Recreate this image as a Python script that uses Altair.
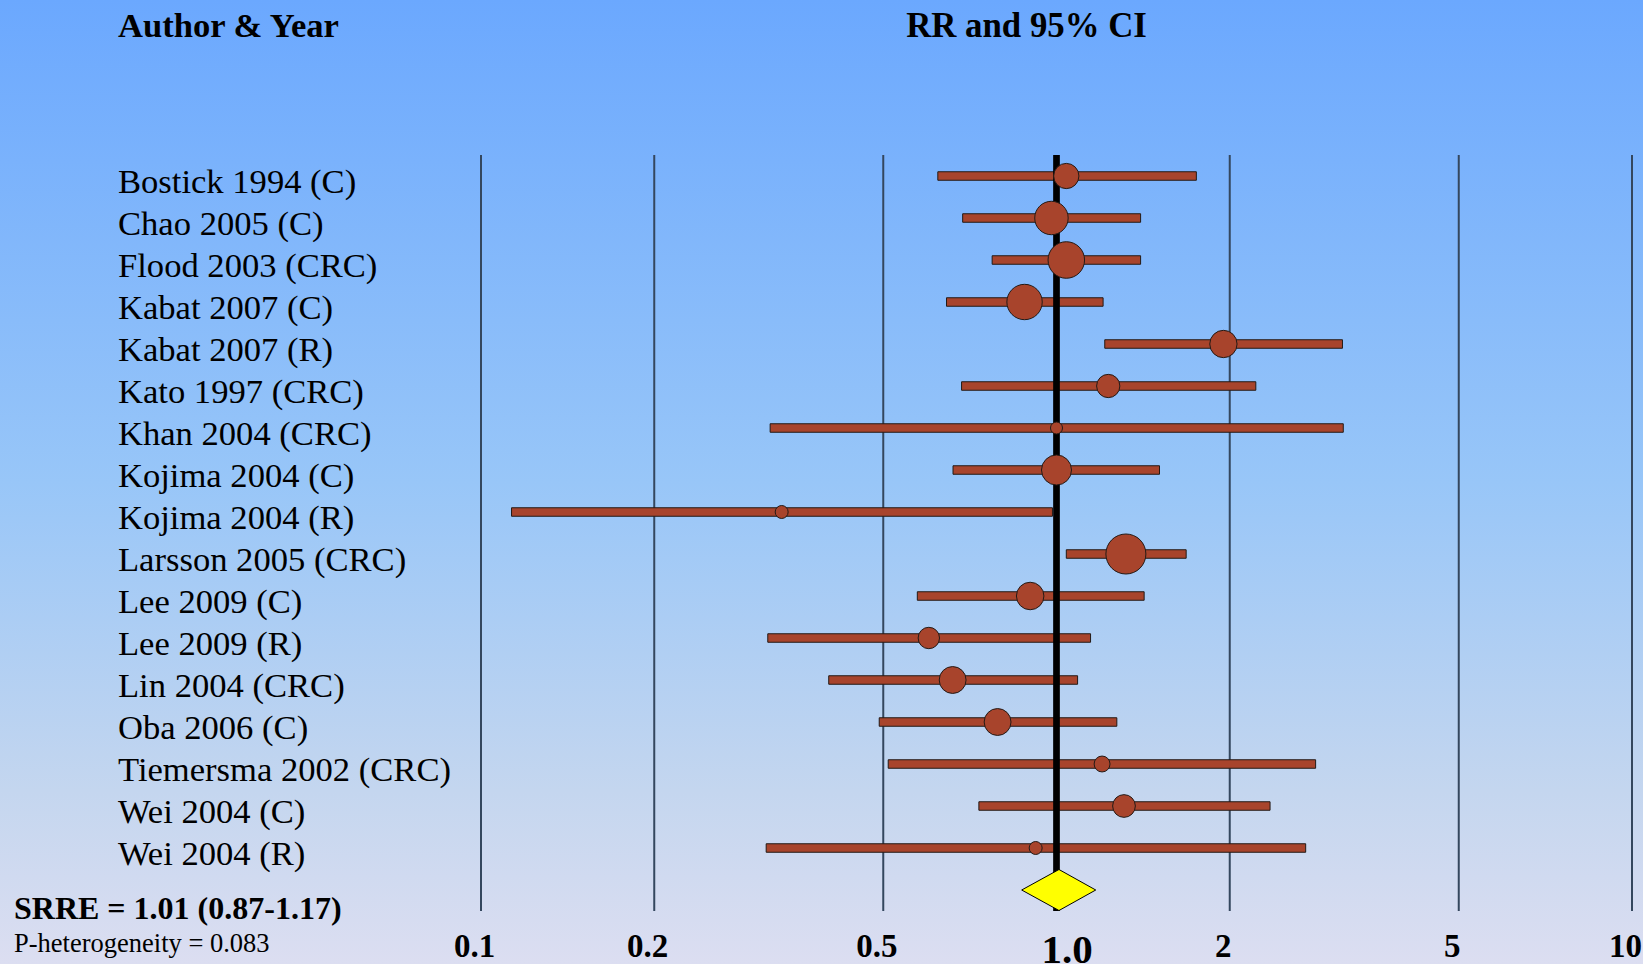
import altair as alt
import pandas as pd

# ---- study-level estimates (relative risk with 95% CI) ----
studies = [
    "Bostick 1994 (C)", "Chao 2005 (C)", "Flood 2003 (CRC)", "Kabat 2007 (C)",
    "Kabat 2007 (R)", "Kato 1997 (CRC)", "Khan 2004 (CRC)", "Kojima 2004 (C)",
    "Kojima 2004 (R)", "Larsson 2005 (CRC)", "Lee 2009 (C)", "Lee 2009 (R)",
    "Lin 2004 (CRC)", "Oba 2006 (C)", "Tiemersma 2002 (CRC)", "Wei 2004 (C)",
    "Wei 2004 (R)",
]
rr = [1.04, 0.98, 1.04, 0.88, 1.95, 1.23, 1.00, 1.00, 0.333, 1.32, 0.90, 0.60,
      0.66, 0.79, 1.20, 1.31, 0.92]
ci_low = [0.622, 0.687, 0.773, 0.644, 1.213, 0.684, 0.318, 0.661, 0.113, 1.04, 0.573,
          0.315, 0.402, 0.492, 0.51, 0.733, 0.313]
ci_high = [1.75, 1.40, 1.40, 1.205, 3.14, 2.22, 3.15, 1.51, 0.984, 1.68, 1.42, 1.146,
           1.088, 1.273, 2.82, 2.35, 2.71]
weights = [5.3, 9.3, 11.1, 10.4, 6.2, 4.5, 1.2, 7.5, 1.4, 13.3, 6.3, 3.8,
           6.0, 6.0, 2.1, 4.3, 1.4]

# ---- pooled random-effects estimate ----
pooled_rr = 1.01
pooled_low = 0.87
pooled_high = 1.17
p_heterogeneity = 0.083

tick_values = [0.1, 0.2, 0.5, 1, 2, 5, 10]

# ---- layout / style ----
SERIF = "Liberation Serif"
BRICK = "#A8442C"
OUTLINE = "#231a16"
GRID = "#34475e"
W, H = 1151, 756
PAD = {"left": 481, "top": 155, "right": 11, "bottom": 53}

n = len(studies)
step = H / (n + 1)

df = pd.DataFrame({
    "study": studies, "rr": rr, "low": ci_low, "high": ci_high,
    "weight": weights, "row": list(range(n)),
})

x_scale = alt.Scale(type="log", domain=[0.1, 10], nice=False, padding=0)
y_scale = alt.Scale(domain=[-0.5, n + 0.5], reverse=True, nice=False, zero=False,
                    padding=0)

is_one = "datum.value == 1"
x_axis = alt.Axis(
    values=tick_values, title=None, grid=False, domain=False, ticks=False,
    tickSize=0, labelPadding=19, labelBaseline="top", labelFont=SERIF,
    labelFontWeight="bold", labelColor="black", labelFlush=False,
    labelOverlap=False, labelBound=False, zindex=1,
    labelExpr="datum.value == 1 ? '1.0' : datum.label",
    labelFontSize={"condition": {"test": is_one, "value": 41}, "value": 33},
    labelOffset={"condition": {"test": is_one, "value": 10}, "value": -7},
)

# gradient backdrop over the whole canvas
background = alt.Chart(pd.DataFrame({"k": [0]})).mark_rect(
    fill=alt.LinearGradient(
        gradient="linear", x1=0, x2=0, y1=0, y2=1,
        stops=[
            alt.GradientStop(color="#6BA8FE", offset=0),
            alt.GradientStop(color="#98C6F8", offset=0.5),
            alt.GradientStop(color="#C4D6EF", offset=0.82),
            alt.GradientStop(color="#DCDEF1", offset=1),
        ],
    )
).encode(
    x=alt.value(-PAD["left"]), x2=alt.value(W + PAD["right"]),
    y=alt.value(-PAD["top"]), y2=alt.value(H + PAD["bottom"]),
)

# vertical reference lines at the tick values
gridlines = alt.Chart(pd.DataFrame({"tick": tick_values})).mark_rule(
    color=GRID, strokeWidth=2
).encode(x=alt.X("tick:Q", scale=x_scale, axis=x_axis))

# confidence-interval bars
bars = alt.Chart(df).mark_bar(
    size=8.5, fill=BRICK, stroke=OUTLINE, strokeWidth=1, orient="horizontal"
).encode(
    x=alt.X("low:Q", scale=x_scale, axis=x_axis),
    x2="high:Q",
    y=alt.Y("row:Q", scale=y_scale, axis=None),
)

# line of no effect
null_line = alt.Chart(pd.DataFrame({"k": [0]})).mark_rule(
    color="black", strokeWidth=6.7
).encode(x=alt.X(datum=1, scale=x_scale, axis=x_axis))

# point estimates, area proportional to study weight
points = alt.Chart(df).mark_circle(
    fill=BRICK, stroke=OUTLINE, strokeWidth=1, opacity=1
).encode(
    x=alt.X("rr:Q", scale=x_scale, axis=x_axis),
    y=alt.Y("row:Q", scale=y_scale, axis=None),
    size=alt.Size("weight:Q", scale=alt.Scale(domain=[0, max(weights)], range=[0, 1600]),
                  legend=None),
)

# pooled estimate diamond
half = 20.5 / step
diamond_df = pd.DataFrame({
    "x": [pooled_low, pooled_rr, pooled_high],
    "top": [n, n - half, n],
    "bottom": [n, n + half, n],
})
diamond = alt.Chart(diamond_df).mark_area(
    orient="vertical", fill="#FFFF00", stroke="black", strokeWidth=1, opacity=1
).encode(
    x=alt.X("x:Q", scale=x_scale, axis=x_axis),
    y=alt.Y("top:Q", scale=y_scale, axis=None),
    y2="bottom:Q",
)

# study names
labels = alt.Chart(df).mark_text(
    align="left", baseline="alphabetic", font=SERIF, fontSize=34.6, dy=16.6,
    color="black",
).encode(
    x=alt.value(118 - PAD["left"]),
    y=alt.Y("row:Q", scale=y_scale, axis=None),
    text="study:N",
)

# column headers
head_left = alt.Chart(pd.DataFrame({"t": ["Author & Year"]})).mark_text(
    align="left", baseline="alphabetic", font=SERIF, fontSize=34.6, fontWeight="bold",
    color="black",
).encode(x=alt.value(118 - PAD["left"]), y=alt.value(36.7 - PAD["top"]), text="t:N")

head_right = alt.Chart(pd.DataFrame({"t": ["RR and 95% CI"]})).mark_text(
    align="center", baseline="alphabetic", font=SERIF, fontSize=34.8, fontWeight="bold",
    color="black",
).encode(x=alt.value(1026.5 - PAD["left"]), y=alt.value(36.7 - PAD["top"]), text="t:N")

# pooled summary text
srre_text = f"SRRE = {pooled_rr:.2f} ({pooled_low:.2f}-{pooled_high:.2f})"
srre = alt.Chart(pd.DataFrame({"t": [srre_text]})).mark_text(
    align="left", baseline="alphabetic", font=SERIF, fontSize=32, fontWeight="bold",
    color="black",
).encode(x=alt.value(14 - PAD["left"]), y=alt.value(919.3 - PAD["top"]), text="t:N")

phet = alt.Chart(pd.DataFrame({"t": [f"P-heterogeneity = {p_heterogeneity}"]})).mark_text(
    align="left", baseline="alphabetic", font=SERIF, fontSize=26.5, color="black",
).encode(x=alt.value(14 - PAD["left"]), y=alt.value(951.7 - PAD["top"]), text="t:N")

chart = alt.layer(
    background, gridlines, bars, null_line, points, diamond,
    labels, head_left, head_right, srre, phet,
).properties(
    width=W, height=H, autosize=alt.AutoSizeParams(type="none"), padding=PAD,
).configure_view(stroke=None).configure(background="#DCDEF1")

chart.save("out.html", embed_options={"renderer": "svg", "actions": False})
